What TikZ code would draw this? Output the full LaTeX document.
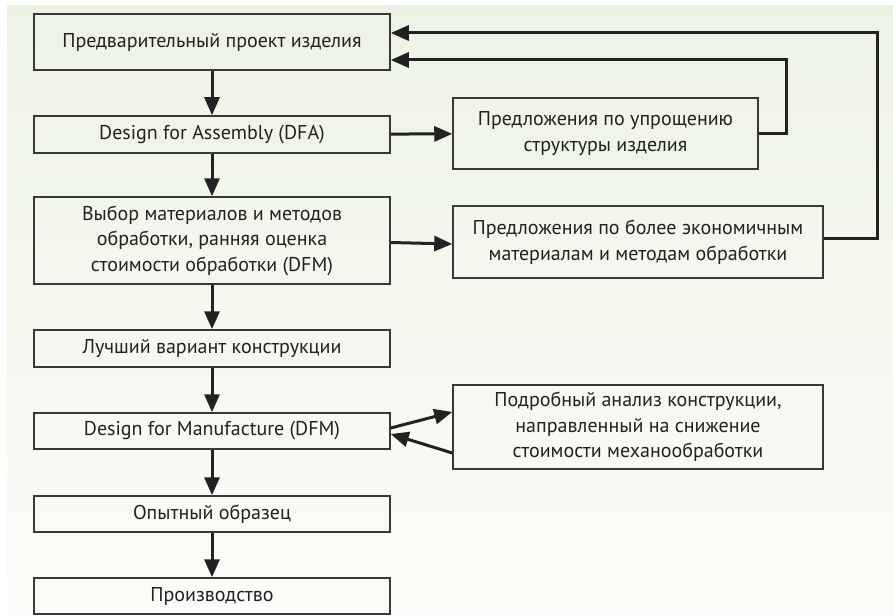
\documentclass[tikz,border=0pt]{standalone}
\usepackage{fontspec}
\setmainfont{PT Sans}
\usetikzlibrary{arrows.meta}
\definecolor{bgtop}{HTML}{EDF3E4}
\definecolor{bgbot}{HTML}{FBFCF9}
\definecolor{ink}{HTML}{222222}
\tikzset{
  box/.style={draw=ink!90, line width=1.5pt, minimum width=356pt, align=center,
    font=\fontsize{20}{25.5}\selectfont, text=ink, inner sep=0pt},
  rbox/.style={box},
  arr/.style={draw=ink, line width=3pt, -{Triangle[length=18pt,width=15pt]}},
}
\begin{document}
\begin{tikzpicture}[x=1pt,y=-1pt]
\useasboundingbox (0,0) rectangle (893,615);
\shade[top color=bgtop, bottom color=bgbot] (7,6) rectangle (893,615);
\node[box, minimum height=56pt] (B1) at (212,42) {Предварительный проект изделия};
\node[box, minimum height=37pt] (B2) at (212,134.5) {Design for Assembly (DFA)};
\node[box, minimum height=87pt] (B3) at (212,240.5) {Выбор материалов и методов\\обработки, ранняя оценка\\стоимости обработки (DFM)};
\node[box, minimum height=37pt] (B4) at (212,348.5) {Лучший вариант конструкции};
\node[box, minimum height=36pt] (B5) at (212,431) {Design for Manufacture (DFM)};
\node[box, minimum height=36pt] (B6) at (212,514) {Опытный образец};
\node[box, minimum height=36pt] (B7) at (212,596) {Производство};
\node[rbox, minimum width=305pt, minimum height=71pt] (R1) at (605.5,133.5) {Предложения по упрощению\\структуры изделия};
\node[rbox, minimum width=370pt, minimum height=72pt] (R2) at (638,242) {Предложения по более экономичным\\материалам и методам обработки};
\node[rbox, minimum width=370pt, minimum height=84pt] (R3) at (638,427) {Подробный анализ конструкции,\\направленный на снижение\\стоимости механообработки};
\coordinate (c1) at (877,33);
\coordinate (c2) at (786,60);
\draw[arr] (B1) -- (B2);
\draw[arr] (B2) -- (B3);
\draw[arr] (B3) -- (B4);
\draw[arr] (B4) -- (B5);
\draw[arr] (B5) -- (B6);
\draw[arr] (B6) -- (B7);
\draw[arr] (B2) -- (R1);
\draw[arr] ([yshift=-2pt]B3.east) -- ([yshift=-2pt]R2.west);
\draw[arr] ([yshift=4pt]R2.east) -| (c1) -- (B1.east |- c1);
\draw[arr] (R1.east) -| (c2) -- (B1.east |- c2);
\draw[arr] ([yshift=3pt]B5.east) -- ([yshift=15pt]R3.west);
\draw[arr] ([yshift=-26pt]R3.west) -- ([yshift=-3pt]B5.east);
\end{tikzpicture}
\end{document}
